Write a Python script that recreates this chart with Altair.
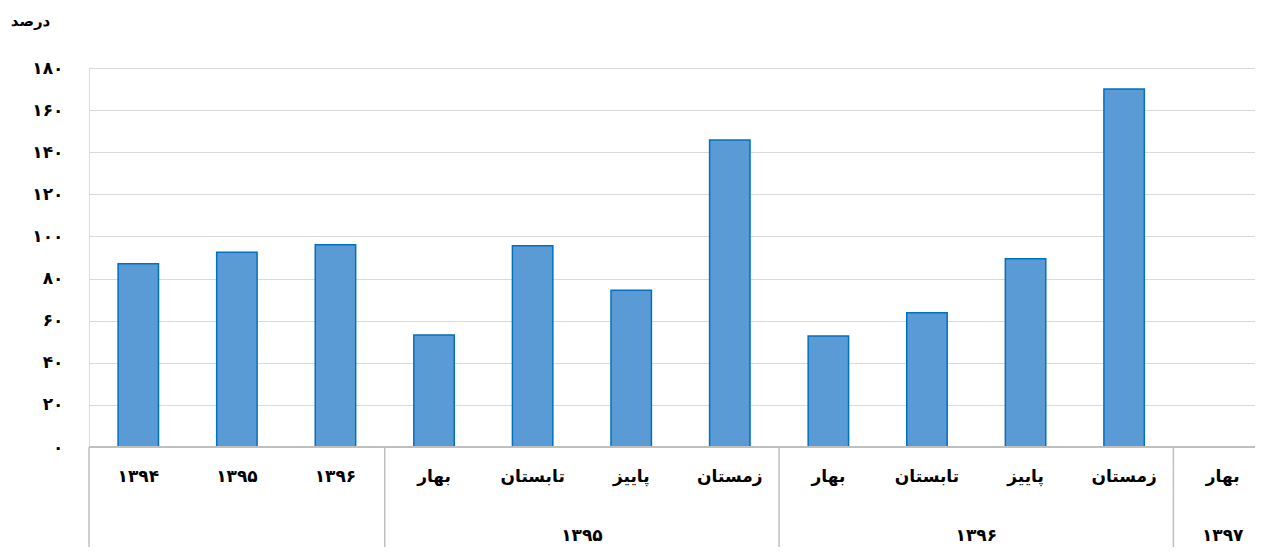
import altair as alt
import pandas as pd

categories = ["۱۳۹۴", "۱۳۹۵", "۱۳۹۶",
              "بهار ۱۳۹۵", "تابستان ۱۳۹۵", "پاییز ۱۳۹۵", "زمستان ۱۳۹۵",
              "بهار ۱۳۹۶", "تابستان ۱۳۹۶", "پاییز ۱۳۹۶", "زمستان ۱۳۹۶",
              "بهار ۱۳۹۷"]
cat_labels = ["۱۳۹۴", "۱۳۹۵", "۱۳۹۶",
              "بهار", "تابستان", "پاییز", "زمستان",
              "بهار", "تابستان", "پاییز", "زمستان",
              "بهار"]
values = [87, 92.5, 96, 53.2, 95.6, 74.5, 145.8, 52.7, 63.8, 89.4, 170, None]

group_labels = ["", "۱۳۹۵", "۱۳۹۶", "۱۳۹۷"]
group_starts = [0, 3, 7, 11]
group_ends = [3, 7, 11, 12]

y_ticks = [0, 20, 40, 60, 80, 100, 120, 140, 160, 180]
y_tick_labels = ["۰", "۲۰", "۴۰", "۶۰", "۸۰", "۱۰۰", "۱۲۰", "۱۴۰", "۱۶۰", "۱۸۰"]
y_title = "درصد"

W = 1166
H = 379
RANGE = 1183
FONT = "DejaVu Sans"

df = pd.DataFrame({"cat": categories, "label": cat_labels, "value": values})
gdf = pd.DataFrame({"label": group_labels, "start": group_starts, "end": group_ends})
gdf["mid"] = (gdf["start"] + gdf["end"]) / 2
sep_df = pd.DataFrame({"pos": group_starts})

label_expr = ""
for v, l in zip(y_ticks, y_tick_labels):
    label_expr += f"datum.value == {v} ? '{l}' : "
label_expr += "''"

xband = alt.X("cat:N", sort=categories,
              scale=alt.Scale(range=[0, RANGE], paddingInner=0.59, paddingOuter=0.295),
              axis=None)

bars = alt.Chart(df).mark_bar(
    color="#5B9BD5", stroke="#0070C0", strokeWidth=1.5
).encode(
    x=xband,
    y=alt.Y("value:Q",
            scale=alt.Scale(domain=[0, 180], nice=False, zero=True),
            axis=alt.Axis(values=y_ticks, labelExpr=label_expr, grid=True,
                          gridColor="#d9d9d9", gridWidth=1.2, domain=False,
                          ticks=False, labelPadding=26, labelFont=FONT,
                          labelFontSize=17, labelFontWeight="bold",
                          labelColor="#000000",
                          title=y_title, titleAngle=0, titleX=-59, titleY=-48,
                          titleAlign="center", titleBaseline="middle",
                          titleFont=FONT, titleFontSize=15,
                          titleFontWeight="bold", titleColor="#000000"))
)

cat_text = alt.Chart(df).mark_text(
    font=FONT, fontSize=17, fontWeight="bold", color="#000000", baseline="middle"
).encode(x=xband, y=alt.value(H + 30), text="label:N")

xq = alt.X("pos:Q", scale=alt.Scale(domain=[0, 12], range=[0, RANGE], nice=False, zero=False), axis=None)

base_line = alt.Chart(sep_df).mark_rule(color="#bfbfbf", strokeWidth=1.5).encode(
    x=alt.value(0), x2=alt.value(RANGE), y=alt.value(H))

seps = alt.Chart(sep_df).mark_rule(color="#bfbfbf", strokeWidth=1.5).encode(
    x=xq, y=alt.value(H), y2=alt.value(H + 120))

grp_text = alt.Chart(gdf).mark_text(
    font=FONT, fontSize=17, fontWeight="bold", color="#000000", baseline="middle"
).encode(
    x=alt.X("mid:Q", scale=alt.Scale(domain=[0, 12], range=[0, RANGE], nice=False, zero=False), axis=None),
    y=alt.value(H + 89), text="label:N")

chart = alt.layer(bars, cat_text, base_line, seps, grp_text).resolve_scale(
    x="independent"
).properties(
    width=W, height=H,
    autosize=alt.AutoSizeParams(type="none"),
    padding={"left": 81, "top": 60, "right": 0, "bottom": 100}
).configure_view(stroke=None).configure(background="#ffffff")

chart.save("out.html", embed_options={"renderer": "svg", "actions": False})
